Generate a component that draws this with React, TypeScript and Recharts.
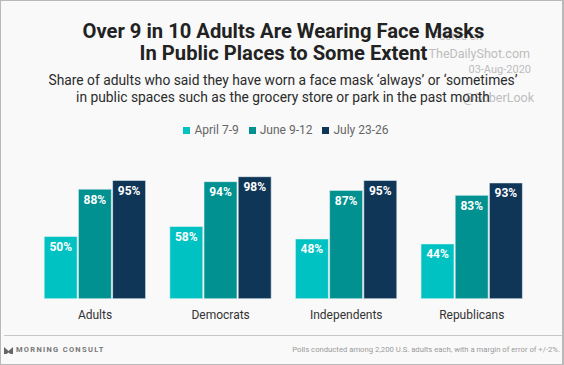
import React from "react";
import { BarChart, Bar, XAxis, YAxis, Legend, LabelList } from "recharts";

const categories = ["Adults", "Democrats", "Independents", "Republicans"];
const april = [50, 58, 48, 44];
const june = [88, 94, 87, 83];
const july = [95, 98, 95, 93];
const seriesNames = ["April 7-9", "June 9-12", "July 23-26"];
const seriesColors = ["#00c2c3", "#009190", "#0f3557"];
const titleLines = ["Over 9 in 10 Adults Are Wearing Face Masks", "In Public Places to Some Extent"];
const subtitleLines = [
  "Share of adults who said they have worn a face mask ‘always’ or ‘sometimes’",
  "in public spaces such as the grocery store or park in the past month",
];
const watermarks = [
  { text: "Posted on", right: 82, top: 29, size: 11 },
  { text: "TheDailyShot.com", right: 34, top: 46, size: 12.5 },
  { text: "03-Aug-2020", right: 33, top: 62, size: 11 },
  { text: "@SoberLook", right: 30, top: 90, size: 12.5 },
];
const sourceNote = "Polls conducted among 2,200 U.S. adults each, with a margin of error of +/-2%.";

const rows = categories.map((c, i) => ({ category: c, a: april[i], b: june[i], c: july[i] }));
const keys = ["a", "b", "c"];
const font = "Roboto, sans-serif";

const centered = (top: number, size: number, weight: number, color: string, left: number, width: number): React.CSSProperties => ({
  position: "absolute", top, left, width, textAlign: "center", fontSize: size, fontWeight: weight, color,
  whiteSpace: "nowrap", lineHeight: "20px", fontFamily: font,
});

export default function App() {
  return (
    <div style={{ position: "absolute", left: 0, top: 0, width: 564, height: 365, background: "#f9f9f9", overflow: "hidden", fontFamily: font }}>
      <BarChart
        width={564}
        height={365}
        data={rows}
        margin={{ top: 160.2, right: 29.4, bottom: 36.3, left: 32.2 }}
        barSize={33}
        barGap={1.2}
      >
        <XAxis dataKey="category" axisLine={false} tickLine={false} height={30} interval={0} tickMargin={6}
          tick={{ fontSize: 12, fill: "#333333", fontFamily: font }} />
        <YAxis hide domain={[0, 100]} />
        <Legend
          verticalAlign="top"
          align="center"
          iconType="square"
          iconSize={7}
          itemSorter={null}
          wrapperStyle={{ position: "absolute", top: 123, left: 9, width: 564, textAlign: "center", fontSize: 12, fontFamily: font }}
          formatter={(v: string) => <span style={{ color: "#666666" }}>{v}</span>}
        />
        {keys.map((k, i) => (
          <Bar key={k} dataKey={k} name={seriesNames[i]} fill={seriesColors[i]} stroke="#e8f4f4" strokeWidth={0.6} isAnimationActive={false}>
            <LabelList dataKey={k} position="insideTop" offset={6} formatter={(v: number) => `${v}%`}
              style={{ fill: "#ffffff", fontSize: 12, fontWeight: 700, fontFamily: font }} stroke="none" />
          </Bar>
        ))}
      </BarChart>

      {watermarks.map((w) => (
        <div key={w.text} style={{ position: "absolute", right: w.right, top: w.top, fontSize: w.size, color: "#bdbdbd", lineHeight: "16px", fontFamily: font, whiteSpace: "nowrap" }}>{w.text}</div>
      ))}
      {titleLines.map((t, i) => (
        <div key={t} style={centered(21 + i * 22, 20.2, 700, "#222222", 0, 567)}>{t}</div>
      ))}
      {subtitleLines.map((t, i) => (
        <div key={t} style={centered(70 + i * 16.5, 13.8, 400, "#2b2b2b", 0, 566)}>{t}</div>
      ))}

      <div style={{ position: "absolute", left: 4, right: 2, top: 335, height: 1, background: "#c8c8c8" }} />
      <svg style={{ position: "absolute", left: 3, top: 346 }} width={11} height={9}>
        <path d="M1 1 L5.5 5 L10 1 L10 8 L7.5 8 L5.5 6.5 L3.5 8 L1 8 Z" fill="#666666" />
      </svg>
      <div style={{ position: "absolute", left: 16, top: 344, fontSize: 7.5, fontWeight: 700, letterSpacing: 1.3, color: "#777777", lineHeight: "12px", whiteSpace: "nowrap" }}>MORNING CONSULT</div>
      <div style={{ position: "absolute", right: 4, top: 344, fontSize: 7.7, color: "#999999", lineHeight: "12px", whiteSpace: "nowrap" }}>{sourceNote}</div>

      <div style={{ position: "absolute", inset: 0, border: "1px solid #b9b9b9", borderRightWidth: 2, pointerEvents: "none" }} />
    </div>
  );
}
